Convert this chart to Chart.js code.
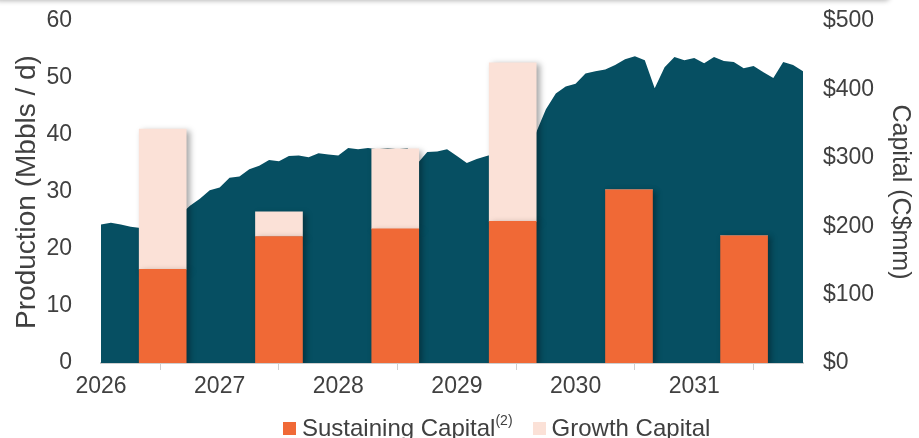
<!DOCTYPE html>
<html>
<head>
<meta charset="utf-8">
<script src="https://cdn.jsdelivr.net/npm/chart.js@4.4.1/dist/chart.umd.min.js"></script>
<style>
  html, body { margin: 0; padding: 0; background: #fff; overflow: hidden; }
  #wrap { position: relative; width: 919px; height: 438px; }
  #topShade { position: absolute; top: -10px; left: -6px; width: 896px; height: 10px; box-shadow: 0 1px 5px rgba(0,0,0,0.28); border-radius: 6px; }
  #legend { position: absolute; left: 283px; top: 414px; font-family: "Liberation Sans", Arial, sans-serif; font-size: 24px; color: #404040; white-space: nowrap; }
  #legend .box { display: inline-block; width: 13px; height: 13px; margin-right: 6px; vertical-align: 1px; }
  #legend sup { font-size: 14px; vertical-align: 11px; line-height: 0; }
</style>
</head>
<body>
<div id="wrap">
  <canvas id="myChart" width="919" height="438"></canvas>
  <div id="topShade"></div>
  <div id="legend">
    <span class="box" style="background:#f06936"></span>Sustaining Capital<sup>(2)</sup>&nbsp;&nbsp;&nbsp;<span class="box" style="background:#fbe1d7"></span>Growth Capital
  </div>
</div>
<script>
// produccion mensual (Mbbls/d), enero 2026 a diciembre 2031
const produccionInicio = 2026;
const produccion = [
  24.3, 24.6, 24.3, 23.9, 23.7, 24.3, 24.8, 25.3, 26.0, 27.6, 28.8, 30.3,
  30.8, 32.5, 32.7, 34.0, 34.6, 35.6, 35.4, 36.3, 36.4, 36.1, 36.8, 36.6,
  36.4, 37.7, 37.5, 37.7, 37.5, 37.7, 37.5, 37.7, 35.0, 37.0, 37.1, 37.5,
  36.3, 35.1, 35.8, 36.3, 36.8, 37.4, 38.3, 39.3, 40.4, 44.5, 47.3, 48.5,
  49.0, 50.8, 51.2, 51.5, 52.3, 53.3, 53.8, 53.1, 48.2, 51.9, 53.7, 53.1,
  53.5, 52.6, 53.7, 53.0, 52.8, 51.7, 52.1, 51.0, 50.0, 52.8, 52.3, 51.2
];

// capital (C$mm) por año
const capitalPos = [2026.52, 2027.50, 2028.48, 2029.47, 2030.45, 2031.42];
const capitalSostenido = [137, 185, 196, 207, 253, 186];
const capitalCrecimiento = [205, 36, 117, 232, 0, 0];

const years = [2026, 2027, 2028, 2029, 2030, 2031];
const prodTicks = [0, 10, 20, 30, 40, 50, 60];
const capTicks = [0, 100, 200, 300, 400, 500];

const textColor = '#404040';
const fontFamily = '"Liberation Sans", Arial, sans-serif';

const areaData = produccion.map((v, i) => ({ x: produccionInicio + i / 12, y: v }));
const susData = capitalPos.map((x, i) => ({ x: x, y: capitalSostenido[i] }));
const groData = capitalPos.map((x, i) => ({ x: x, y: capitalCrecimiento[i] }));

// sombra suave como en la diapositiva
const sombra = {
  id: 'sombra',
  beforeDatasetDraw(chart) {
    const ctx = chart.ctx;
    ctx.save();
    ctx.shadowColor = 'rgba(0,0,0,0.35)';
    ctx.shadowBlur = 6;
    ctx.shadowOffsetX = 3;
    ctx.shadowOffsetY = 2;
  },
  afterDatasetDraw(chart) {
    chart.ctx.restore();
  }
};

// el padding de los ticks no debe empujar el area del grafico
function fijarAncho(ancho) {
  return (scale) => {
    scale.width = ancho;
    scale.paddingTop = 0;
    scale.paddingBottom = 0;
  };
}

const ctx = document.getElementById('myChart').getContext('2d');
const myChart = new Chart(ctx, {
  data: {
    datasets: [
      {
        type: 'bar',
        label: 'Sustaining Capital',
        data: susData,
        yAxisID: 'y1',
        stack: 'cap',
        backgroundColor: '#f06936',
        barThickness: 47,
        order: 1
      },
      {
        type: 'bar',
        label: 'Growth Capital',
        data: groData,
        yAxisID: 'y1',
        stack: 'cap',
        backgroundColor: '#fbe1d7',
        barThickness: 47,
        order: 1
      },
      {
        type: 'line',
        label: 'Production',
        data: areaData,
        yAxisID: 'y',
        fill: 'origin',
        backgroundColor: '#064f62',
        borderWidth: 0,
        pointRadius: 0,
        tension: 0,
        clip: { left: 0, top: 0, right: 10, bottom: 0 },
        order: 2
      }
    ]
  },
  options: {
    responsive: false,
    animation: false,
    layout: { padding: { top: 21, left: 0, right: 0, bottom: 0 } },
    plugins: {
      legend: { display: false },
      tooltip: { enabled: false }
    },
    scales: {
      x: {
        type: 'linear',
        min: 2026,
        max: 2026 + 71 / 12,
        offset: false,
        afterBuildTicks: (scale) => { scale.ticks = years.map(v => ({ value: v })); },
        afterFit: (scale) => { scale.height = 75; },
        grid: { display: true, drawOnChartArea: false, drawTicks: true, tickLength: 7, color: '#cfcfcf' },
        border: { display: true, color: '#cfcfcf', width: 2 },
        ticks: {
          color: textColor,
          font: { family: fontFamily, size: 23 },
          padding: 3,
          maxRotation: 0,
          callback: (v) => String(v)
        }
      },
      y: {
        position: 'left',
        min: 0,
        max: 60,
        afterBuildTicks: (scale) => { scale.ticks = prodTicks.map(v => ({ value: v })); },
        afterFit: fijarAncho(101),
        grid: { display: false, drawTicks: false },
        border: { display: false },
        ticks: { color: textColor, font: { family: fontFamily, size: 23 }, padding: 29 },
        title: {
          display: true,
          text: 'Production (Mbbls / d)',
          color: textColor,
          font: { family: fontFamily, size: 28, lineHeight: 1 },
          padding: { top: 13, bottom: 0 }
        }
      },
      y1: {
        position: 'right',
        min: 0,
        max: 500,
        afterBuildTicks: (scale) => { scale.ticks = capTicks.map(v => ({ value: v })); },
        afterFit: fijarAncho(116),
        grid: { display: false, drawTicks: false },
        border: { display: false },
        ticks: {
          color: textColor,
          font: { family: fontFamily, size: 23 },
          padding: 20,
          callback: (v) => '$' + v
        },
        title: {
          display: true,
          text: 'Capital (C$mm)',
          color: textColor,
          font: { family: fontFamily, size: 25, lineHeight: 1 },
          padding: { top: 7, bottom: 0 }
        }
      }
    }
  },
  plugins: [sombra]
});
</script>
</body>
</html>
